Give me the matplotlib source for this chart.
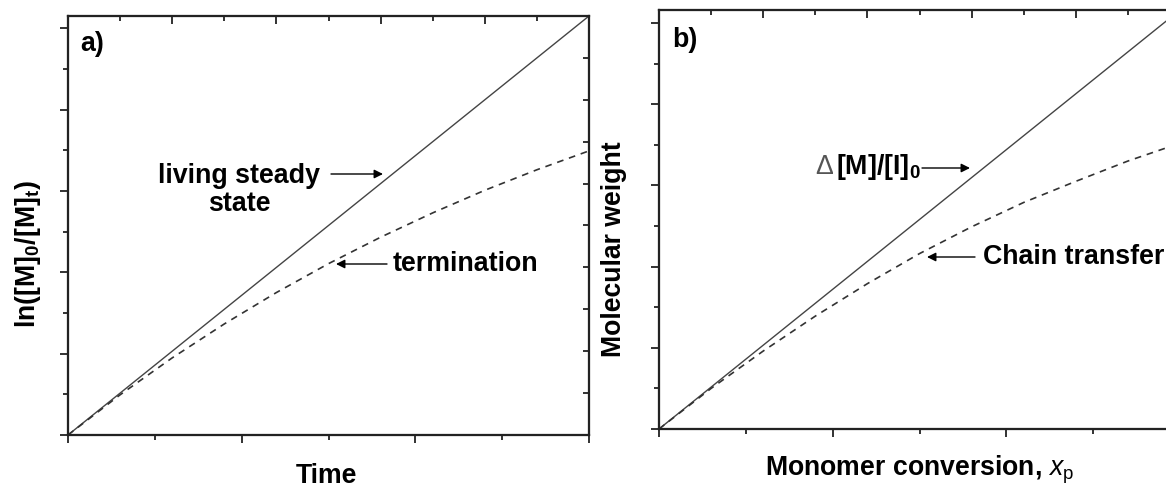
import matplotlib
matplotlib.use("Agg")
import matplotlib.pyplot as plt
from matplotlib.ticker import MultipleLocator

plt.rcParams['font.family'] = ['Liberation Sans', 'DejaVu Sans']
plt.rcParams['mathtext.fontset'] = 'custom'
plt.rcParams['mathtext.rm'] = 'Liberation Sans'
plt.rcParams['mathtext.bf'] = 'Liberation Sans:bold'
plt.rcParams['mathtext.it'] = 'Liberation Sans:italic'

# panel a) : first order plot, time axis in arbitrary units
time = [0.0, 0.3, 0.6, 0.9, 1.2, 1.5, 1.8, 2.1, 2.4, 2.7, 3.0]
ln_living = [0.0, 0.515, 1.03, 1.545, 2.06, 2.575, 3.09, 3.605, 4.12, 4.635, 5.15]
ln_termination = [0.0, 0.494, 0.948, 1.365, 1.751, 2.106, 2.431, 2.730, 3.008, 3.260, 3.492]

# panel b) : molecular weight vs conversion
conversion = [0.0, 0.3, 0.6, 0.9, 1.2, 1.5, 1.8, 2.1, 2.4, 2.7, 3.0]
mw_ideal = [0.0, 0.516, 1.032, 1.548, 2.064, 2.58, 3.096, 3.612, 4.128, 4.644, 5.16]
mw_transfer = [0.0, 0.50, 0.96, 1.39, 1.79, 2.16, 2.49, 2.79, 3.05, 3.30, 3.52]

W, H = 1166, 492
fig = plt.figure(figsize=(W / 100, H / 100), dpi=100)

axL = fig.add_axes([68 / W, (H - 435) / H, 521 / W, 419 / H])
axR = fig.add_axes([659 / W, (H - 429) / H, 521 / W, 419 / H])


def style(ax, ymax):
    ax.set_xlim(0, 3)
    ax.set_ylim(0, ymax)
    ax.xaxis.set_major_locator(MultipleLocator(1))
    ax.xaxis.set_minor_locator(MultipleLocator(0.5))
    ax.yaxis.set_major_locator(MultipleLocator(1))
    ax.yaxis.set_minor_locator(MultipleLocator(0.5))
    ax.tick_params(which='both', direction='out', labelbottom=False, labelleft=False,
                   width=1.3, color='#222222')
    ax.tick_params(which='major', length=5.5)
    ax.tick_params(which='minor', length=3.5)
    for s in ax.spines.values():
        s.set_linewidth(1.5)
        s.set_color('#222222')
    # Origin-style top / right axes with their own inward ticks
    top = ax.twiny()
    top.set_xlim(0, 1)
    top.xaxis.set_major_locator(MultipleLocator(0.2))
    top.xaxis.set_minor_locator(MultipleLocator(0.1))
    top.tick_params(which='both', direction='in', labeltop=False, width=1.3, color='#222222')
    top.tick_params(which='major', length=5.5)
    top.tick_params(which='minor', length=3.5)
    right = ax.twinx()
    right.set_ylim(0, 1)
    right.yaxis.set_major_locator(MultipleLocator(0.1))
    right.tick_params(which='both', direction='in', labelright=False, width=1.3,
                      length=4.5, color='#222222')
    for a in (top, right):
        for s in a.spines.values():
            s.set_linewidth(1.5)
            s.set_color('#222222')


style(axL, 5.15)
style(axR, 5.16)

axL.plot(time, ln_living, color='#444444', lw=1.0)
axL.plot(time, ln_termination, color='#333333', lw=1.2, dashes=(4, 3.5))
axR.plot(conversion, mw_ideal, color='#444444', lw=1.0)
axR.plot(conversion, mw_transfer, color='#333333', lw=1.2, dashes=(4, 3.5))

fs = 19.3
fl = 19.2


def fp(x, y):
    return (x, H - y)


def arrow(tail, tip):
    fig.add_artist(matplotlib.patches.FancyArrowPatch(
        fp(*tail), fp(*tip), transform=None, arrowstyle='-|>', mutation_scale=13,
        lw=1.0, color='black', shrinkA=0, shrinkB=0))


fig.text(80 / W, 1 - 44 / H, 'a)', fontsize=fs, fontweight='bold', va='center', ha='left')
fig.text(672 / W, 1 - 40 / H, 'b)', fontsize=fs, fontweight='bold', va='center', ha='left')

fig.text(239 / W, 1 - 190 / H, 'living steady\nstate', fontsize=fs, fontweight='bold',
         ha='center', va='center', linespacing=1.1)
arrow((331, 174), (383, 174))
fig.text(393 / W, 1 - 264 / H, 'termination', fontsize=fs, fontweight='bold',
         ha='left', va='center')
arrow((387, 264), (336, 264))

fig.text(815 / W, 1 - 167 / H, 'Δ', fontsize=fs, color='#555555',
         ha='left', va='center')
fig.text(836 / W, 1 - 167 / H, r'[M]/[I]$_\mathbf{0}$', fontsize=fs, fontweight='bold',
         ha='left', va='center')
arrow((922, 168), (970, 168))
fig.text(983 / W, 1 - 257 / H, 'Chain transfer', fontsize=fs, fontweight='bold',
         ha='left', va='center')
arrow((975, 257), (927, 257))

fig.text(28 / W, 1 - 254 / H, r'ln([M]$_\mathbf{0}$/[M]$_\mathbf{t}$)', fontsize=fl,
         fontweight='bold', rotation=90, ha='center', va='center')
fig.text(614 / W, 1 - 249 / H, 'Molecular weight', fontsize=fl, fontweight='bold',
         rotation=90, ha='center', va='center')
fig.text(326 / W, 1 - 476 / H, 'Time', fontsize=fl, fontweight='bold',
         ha='center', va='center')
fig.text(919 / W, 1 - 470 / H, r'Monomer conversion, $\mathit{x}_\mathrm{p}$', fontsize=fl,
         fontweight='bold', ha='center', va='center')

fig.savefig('out.png', dpi=100)
